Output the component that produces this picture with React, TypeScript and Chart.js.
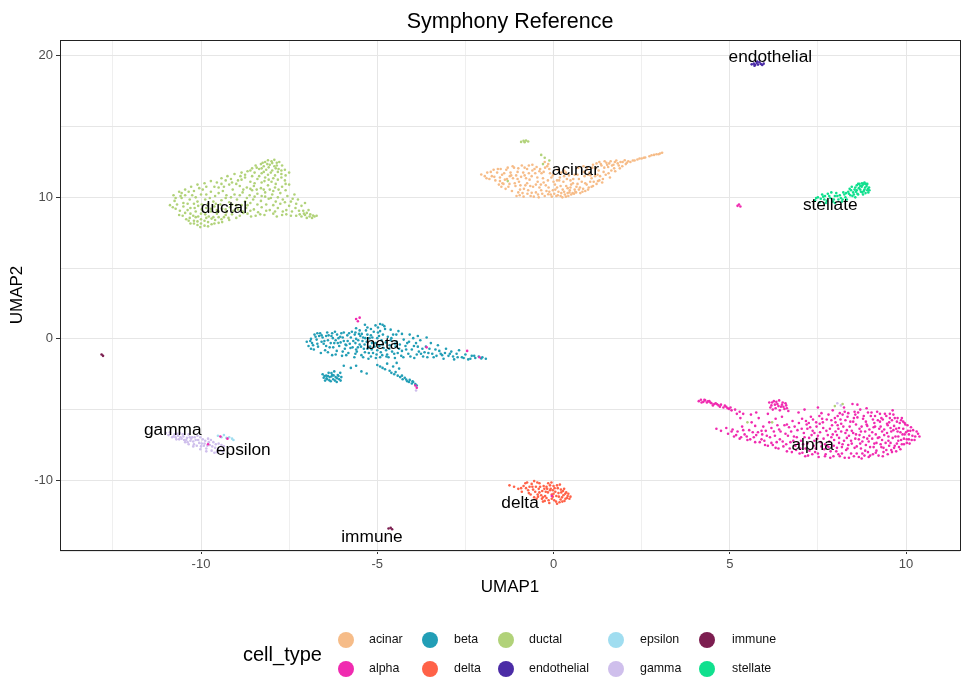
import React, { useEffect, useRef } from "react";
import { Chart, registerables } from "chart.js";

Chart.register(...registerables);

type P = [number, number];

const cellTypes = ["acinar", "alpha", "beta", "delta", "ductal", "endothelial", "epsilon", "gamma", "immune", "stellate"];
const cellColors = ["#F6BC88", "#F02BB0", "#229EB6", "#FF6248", "#B1D279", "#4B2CA6", "#A0DDF0", "#CFBFEC", "#7C1E50", "#10E08E"];
const xMajorTicks = [-12.5, -10, -7.5, -5, -2.5, 0, 2.5, 5, 7.5, 10];
const yMajorTicks = [-15, -10, -5, 0, 5, 10, 15, 20];
const labelNames = ["acinar", "alpha", "beta", "delta", "ductal", "endothelial", "epsilon", "gamma", "immune", "stellate"];
const labelX = [0.62, 7.35, -4.85, -0.95, -9.35, 6.15, -8.8, -10.8, -5.15, 7.85];
const labelY = [11.9, -7.55, -0.35, -11.65, 9.2, 19.9, -7.85, -6.45, -14.05, 9.45];

const acinar: P[] = [
[3.08,13.15],[2.98,13.05],[2.85,13],[2.72,12.9],[2.6,12.82],[2.5,12.75],[2.38,12.68],[2.25,12.6],[2.12,12.55],[2.02,12.62],[1.9,12.5],[1.95,12.2],[1.78,12.6],[1.7,12.3],[1.62,12.55],[1.55,12.15],[1.5,12.45],[1.42,11.8],[1.36,12.25],[1.3,12.5],[1.25,11.6],[1.2,12.05],[1.12,12.3],[1.08,11.35],[1.02,11.75],[0.95,12.1],[0.9,11],[0.88,11.5],[1.3,11.2],[1.6,11.4],[1.75,11.85],[0.75,10.7],[0.72,11.3],[0.7,12.1],[0.62,10.4],[0.55,11],[0.5,10.2],[0.48,10.7],[0.42,10.1],[0.38,11.3],[0.3,10.4],[0.25,10],[0.2,10.8],[0.18,11.4],[0.12,10.15],[0.05,10.55],[0,11.1],[-0.05,10.05],[-0.1,11.7],[-0.12,10.4],[-0.18,12.2],[-0.22,10.85],[-0.25,10.1],[-0.3,11.35],[-0.35,10.5],[-0.38,12],[-0.42,10],[-0.45,11.1],[-0.5,10.35],[-0.52,11.7],[-0.58,10.75],[-0.6,12.3],[-0.65,10.1],[-0.68,11.25],[-0.72,10.5],[-0.75,12],[-0.8,10.85],[-0.82,11.55],[-0.85,10.05],[-0.9,12.25],[-0.95,10.55],[-0.98,11.1],[-1.02,11.8],[-1.05,10.1],[-1.08,10.8],[-1.12,12.1],[-1.15,11.35],[-1.18,10.45],[-1.22,11.75],[-1.25,10.95],[-1.3,12.1],[-1.32,11.3],[-1.36,10.6],[-1.4,11.7],[-1.45,11],[-1.5,12],[-1.52,11.4],[-1.55,10.9],[-1.6,11.75],[-1.65,11.2],[-1.7,11.95],[-1.75,11.5],[-1.82,11.3],[-1.88,11.75],[-1.95,11.5],[-2.05,11.62],[0.02,10.25],[0.1,10.7],[0.22,10.3],[0.35,10.05],[0.45,10.35],[0.58,10.25],[0.65,10.75],[-0.02,11.55],[0.12,11.95],[-0.28,11.8],[-0.48,12.15],[-0.7,11.7],[-0.92,11.45],[0.3,11.9],[0.6,11.6],[0.82,10.4],[0.98,10.55],[1.12,10.8],[1.22,10.95],[1.38,11.05],[-0.15,10.22],[-0.4,10.7],[-0.62,10.32],[-0.88,10.3],[-1,10.35],[1.45,12.55],[1.85,12.25],[2.05,12.35],[-0.25,12.5],[-0.15,12.35],[0.85,12.2],[1.05,11.55],[-1.2,11.55],[-1.48,10.75],[-0.75,11],[0.4,10.65],[0.28,11.1],
[-1.9,11.35],[-1.78,11.8],[-1.68,11.45],[-1.58,12],[-1.46,11.6],[-1.42,10.95],[-1.34,11.95],[-1.28,10.75],[-1.24,11.5],[-1.16,12.2],[-1.1,11],[-1.06,11.55],[-1,12.05],[-0.96,10.15],[-0.94,10.85],[-0.86,11.75],[-0.84,10.6],[-0.78,11.35],[-0.74,10.25],[-0.7,12.25],[-0.66,10.8],[-0.62,11.5],[-0.56,10.05],[-0.54,12],[-0.5,10.9],[-0.46,11.4],[-0.44,10.2],[-0.4,11.85],[-0.36,10.9],[-0.32,10.25],[-0.28,11.05],[-0.24,12.1],[-0.2,10.45],[-0.16,11.2],[-0.14,10.7],[-0.08,10.2],[-0.06,11.4],[-0.02,10.5],[0.04,10.9],[0.08,10.1],[0.14,10.4],[0.16,11.2],[0.2,10.1],[0.26,10.55],[0.3,11.5],[0.32,10.2],[0.36,10.8],[0.4,10.3],[0.44,11.55],[0.46,10.5],[0.5,10.9],[0.54,10.3],[0.56,11.3],[0.6,10.55],[0.64,10.35],[0.68,10.95],[0.72,10.55],[0.76,10.3],[0.8,11.1],[0.84,10.6],[0.86,11.8],[0.9,10.45],[0.94,10.9],[0.98,11.6],[1,10.7],[1.04,11.1],[1.08,10.75],[1.1,12.1],[1.14,11.1],[1.18,11.5],[1.22,12.4],[1.26,11.15],[1.28,11.9],[1.32,11.5],[1.34,12.35],[1.4,11.3],[1.44,12.1],[1.48,11.6],[1.52,12.3],[1.56,11.7],[1.58,12.4],[1.64,11.9],[1.66,12.25],[1.72,12.05],[1.74,12.5],[1.82,12.4],[1.88,12.05],[1.96,12.5],[2.08,12.45],[2.18,12.5],[2.3,12.6],[2.44,12.75],[2.56,12.8],[2.78,12.98],[2.92,13.05],[3.02,13.1],[0.1,11.2],[0.22,11.75],[0.35,11.75],[0.48,11.2],[0.68,11.6],[-0.12,12],[-0.34,11.7],[-0.6,11.9],[-0.82,12.1],[-1.02,11.3],[-1.38,11.25],[-1.52,11.15]
];

const alpha: P[] = [
[4.12,-4.4],[4.18,-4.3],[4.25,-4.45],[4.3,-4.35],[4.35,-4.5],[4.42,-4.4],[4.48,-4.55],[4.52,-4.7],[4.6,-4.55],[4.68,-4.7],[4.75,-4.65],[4.82,-4.85],[4.9,-4.8],[4.98,-4.95],[5.05,-5.05],[5.15,-5],[5.28,-5.15],[5.38,-5.3],
[4.2,-4.5],[4.28,-4.3],[4.38,-4.42],[4.45,-4.5],[4.56,-4.6],[4.64,-4.62],[4.72,-4.8],[4.86,-4.72],[4.94,-4.9],[5.02,-4.85],
[6.12,-4.5],[6.18,-4.7],[6.25,-4.4],[6.3,-4.9],[6.35,-4.6],[6.4,-4.35],[6.45,-4.8],[6.5,-4.5],[6.55,-4.95],[6.6,-4.7],[6.66,-5.1],[6.22,-5],[6.42,-5.05],
[6.15,-4.85],[6.2,-4.5],[6.28,-4.65],[6.32,-4.45],[6.38,-4.75],[6.48,-4.65],[6.52,-4.8],[6.58,-4.55],[6.62,-4.9],
[4.62,-6.35],[4.75,-6.5],[4.9,-6.3],[4.95,-6.7],[5.08,-6.4],[5.12,-6.9],[5.22,-6.55],[5.28,-7.05],[5.35,-6.2],[5.42,-6.75],[5.5,-7.15],[5.55,-6.45],[5.62,-5.9],[5.68,-6.95],[5.72,-7.3],[5.8,-6.6],[5.82,-5.6],[5.9,-7.1],[5.95,-6.2],[6,-7.5],[6.05,-6.85],[6.12,-5.9],[6.18,-7.35],[6.25,-6.55],[6.3,-7.7],[6.35,-6.1],[6.42,-7.1],[6.48,-5.5],[6.52,-7.6],[6.58,-6.7],[6.62,-7.95],[6.68,-6.25],[6.72,-7.3],[6.78,-5.8],[6.82,-6.9],[6.88,-7.85],[6.92,-6.45],[6.98,-8.1],[7.02,-7.2],[7.05,-5.65],[7.1,-6.65],[7.15,-7.75],[7.18,-6.05],[7.22,-8.25],[7.25,-7],[7.3,-5.5],[7.35,-6.5],[7.38,-7.55],[7.42,-8],[7.45,-5.9],[7.5,-6.85],[7.52,-8.35],[7.58,-7.3],[7.6,-5.25],[7.65,-6.3],[7.68,-7.8],[7.72,-8.15],[7.75,-5.7],[7.78,-6.8],[7.82,-7.25],[7.85,-8.4],[7.9,-6.1],[7.92,-5.05],[7.95,-7.55],[8,-6.55],[8.02,-7.95],[8.06,-5.45],[8.1,-7],[8.12,-8.3],[8.16,-6],[8.2,-7.45],[8.24,-4.85],[8.28,-6.65],[8.3,-7.85],[8.34,-5.5],[8.38,-8.4],[8.4,-6.2],[8.44,-7.2],[8.48,-4.6],[8.5,-5.85],[8.54,-7.7],[8.58,-6.75],[8.6,-8.1],[8.64,-5.2],[8.68,-6.35],[8.7,-7.4],[8.74,-8.45],[8.78,-5.65],[8.8,-6.95],[8.84,-7.9],[8.88,-4.9],[8.9,-6.15],[8.94,-7.25],[8.98,-8.25],[9,-5.45],[9.04,-6.6],[9.08,-7.65],[9.1,-5.95],[9.14,-8.05],[9.18,-5.15],[9.2,-7],[9.24,-6.35],[9.28,-7.45],[9.3,-5.6],[9.34,-8.3],[9.38,-6.8],[9.4,-5.3],[9.44,-7.85],[9.48,-6.1],[9.5,-7.2],[9.54,-5.6],[9.58,-6.55],[9.6,-8],[9.64,-5.35],[9.68,-7.55],[9.7,-6.9],[9.74,-5.85],[9.78,-7.2],[9.8,-6.3],[9.84,-7.8],[9.88,-5.6],[9.9,-6.75],[9.94,-7.45],[9.98,-6.05],[10.02,-7.1],[10.05,-6.5],[10.1,-7.4],[10.14,-6.25],[10.18,-6.85],[10.24,-7.15],[10.3,-6.55],[10.38,-6.9],
[7.08,-7.45],[7.28,-6.25],[7.48,-7.05],[7.62,-5.65],[7.7,-7.45],[7.88,-6.95],[7.98,-5.6],[8.08,-6.35],[8.18,-8.1],[8.26,-5.15],[8.36,-7.5],[8.46,-6.5],[8.56,-5.35],[8.66,-7.1],[8.76,-8.1],[8.86,-5.85],[8.96,-6.85],[9.06,-5.7],[9.16,-7.35],[9.26,-5.85],[9.36,-7.7],[9.46,-6.65],[9.56,-7.35],[9.66,-6.15],[9.76,-6.55],[9.86,-7.15],[9.96,-6.75],[10.08,-6.75],
[7.2,-6.35],[7.4,-7.2],[7.55,-6],[7.8,-7.65],[8.04,-6.8],[8.14,-5.7],[8.32,-7],[8.52,-5.6],[8.72,-6.55],[8.92,-8],[9.12,-6.2],[9.32,-6.55],[9.52,-5.9],[9.72,-7.95],[9.92,-5.85],[5.3,-5.6],[5.75,-5.2],[6.08,-5.3],[6.95,-5.2],[7.12,-5],[7.5,-4.85],[8.62,-4.65],[8.2,-5.35],[9.62,-5.05],[5.2,-5.3],
[5.05,-6.55],[5.18,-6.8],[5.32,-6.95],[5.38,-6.45],[5.48,-6.9],[5.58,-7.1],[5.65,-6.6],[5.75,-6.8],[5.85,-7.3],[5.92,-6.75],[5.98,-7.2],[6.02,-6.5],[6.08,-7.55],[6.14,-6.95],[6.22,-7.5],[6.28,-6.85],[6.33,-7.3],[6.38,-7.75],[6.44,-6.55],[6.5,-7.25],[6.55,-6.1],[6.6,-7.45],[6.65,-6.85],[6.7,-7.75],[6.74,-6.55],[6.76,-8],[6.8,-7.2],[6.84,-6.2],[6.86,-7.55],[6.9,-6.95],[6.94,-7.4],[6.96,-5.95],[7,-7.75],[7.04,-6.35],[7.06,-8.05],[7.12,-6.95],[7.14,-8.3],[7.16,-5.8],[7.2,-7.4],[7.24,-5.95],[7.26,-7.9],[7.32,-6.8],[7.34,-8.15],[7.36,-5.7],[7.4,-6.65],[7.44,-7.75],[7.46,-6.2],[7.5,-8.1],[7.54,-5.45],[7.56,-6.6],[7.6,-7.6],[7.64,-5.9],[7.66,-7.05],[7.7,-8.3],[7.74,-6.5],[7.76,-7.55],[7.8,-5.35],[7.84,-6.35],[7.86,-7.95],[7.88,-5.75],[7.92,-6.75],[7.94,-8.3],[7.96,-7.15],[8,-5.9],[8.04,-7.7],[8.06,-6.1],[8.08,-8.15],[8.1,-7.35],[8.12,-5.25],[8.16,-6.55],[8.18,-7.65],[8.22,-6.2],[8.24,-7.2],[8.26,-8.4],[8.28,-5.75],[8.32,-6.45],[8.34,-7.75],[8.36,-5.25],[8.38,-6.85],[8.42,-5.85],[8.44,-8.1],[8.46,-7.4],[8.5,-6.65],[8.52,-8.3],[8.54,-5.15],[8.56,-7.05],[8.58,-6.05],[8.6,-7.6],[8.62,-5.55],[8.66,-8.35],[8.68,-6.8],[8.7,-5],[8.72,-7.75],[8.74,-6.2],[8.76,-7.25],[8.8,-5.45],[8.82,-8.25],[8.84,-6.55],[8.86,-7.5],[8.88,-6.05],[8.9,-7.05],[8.92,-5.2],[8.94,-8.35],[8.96,-6.4],[8.98,-7.65],[9.02,-5.2],[9.04,-7.05],[9.06,-8.15],[9.08,-6.25],[9.1,-7.4],[9.12,-5.45],[9.14,-6.75],[9.16,-7.9],[9.2,-5.75],[9.22,-8.25],[9.24,-6.95],[9.26,-5.3],[9.28,-6.2],[9.3,-7.65],[9.32,-7.15],[9.34,-5.7],[9.36,-8],[9.38,-6.4],[9.42,-7.35],[9.44,-5.45],[9.46,-6],[9.48,-8.15],[9.5,-6.9],[9.52,-7.55],[9.54,-5.3],[9.56,-6.3],[9.58,-7.85],[9.6,-5.75],[9.62,-7],[9.64,-6.45],[9.66,-7.7],[9.68,-5.6],[9.72,-6.35],[9.74,-7.4],[9.76,-5.6],[9.78,-6.9],[9.8,-7.65],[9.82,-5.95],[9.84,-6.6],[9.86,-5.75],[9.88,-7.45],[9.92,-6.35],[9.94,-7.05],[9.96,-5.95],[10,-6.6],[10.02,-7.35],[10.04,-6.1],[10.08,-7.1],[10.12,-6.5],[10.16,-7.15],[10.2,-6.45],[10.26,-6.9],[10.34,-6.7],[5.72,-6.15],[5.9,-6.5],[6.18,-6.3],[6.4,-6.4],[6.62,-6.05],[6.3,-5.65],[5.6,-5.35],
[5.22,9.4],[5.3,9.35],[5.26,9.5],[-5.6,1.4],[-5.5,1.5],[-5.55,1.25],[-3.92,-3.3],[-3.88,-3.45],[-2.1,-1.3],[-2.45,-0.85],[-3.6,-0.6],[-9.8,-7.45],[-9.45,-6.9],[-9.25,-7.05],[-0.05,-11.1]
];

const beta: P[] = [
[-7,-0.2],[-6.95,-0.5],[-6.88,0],[-6.85,-0.3],[-6.8,-0.75],[-6.78,0.3],[-6.72,-0.05],[-6.68,-0.55],[-6.62,0.4],[-6.6,-1],[-6.55,0.1],[-6.52,-0.35],[-6.48,-0.8],[-6.42,0.45],[-6.4,-0.1],[-6.35,-0.6],[-6.3,0.2],[-6.28,-1.15],[-6.22,-0.3],[-6.2,0.5],[-6.15,-0.85],[-6.1,0.05],[-6.08,-0.5],[-6.02,0.4],[-6,-1.2],[-5.95,-0.15],[-5.92,-0.7],[-5.85,0.25],[-5.82,-1],[-5.78,-0.35],[-5.72,0.5],[-5.7,-0.6],[-5.65,-1.3],[-5.6,0],[-5.58,-0.9],[-5.52,0.35],[-5.5,-0.4],[-5.45,-1.15],[-5.4,0.1],[-5.38,-0.7],[-5.32,0.6],[-5.3,-0.2],[-5.25,-1.4],[-5.2,-0.55],[-5.18,0.25],[-5.12,-1],[-5.1,0.5],[-5.05,-0.3],[-5,-0.8],[-4.95,0.2],[-4.92,-1.3],[-4.88,-0.1],[-4.82,-0.65],[-4.78,0.7],[-4.72,-1.1],[-4.7,0.15],[-4.65,-0.45],[-4.58,-0.9],[-4.55,0.3],[-4.5,-1.35],[-4.45,-0.2],[-4.4,0.55],[-4.38,-0.7],[-4.32,-1.2],[-4.25,-0.05],[-4.2,-0.5],[-4.12,-1.05],[-4.08,0.3],[-4.02,-0.75],[-3.95,-1.35],[-3.9,-0.3],[-3.82,-0.9],[-3.78,-0.1],[-3.7,-1.25],[-3.62,-0.55],[-3.55,-1],[-3.48,-0.3],[-3.4,-1.3],[-3.35,-0.75],[-3.28,-0.45],[-3.2,-1.05],[-3.12,-1.4],[-3.05,-0.7],[-2.98,-1.2],[-2.9,-0.9],[-2.82,-1.45],[-2.75,-1.05],[-2.68,-0.8],[-2.6,-1.3],[-2.5,-1.1],[-2.42,-1.45],[-2.32,-1.2],[-2.22,-1.35],[-2.12,-1.25],[-2.02,-1.3],[-1.92,-1.4],
[-6.58,-0.2],[-6.38,0.25],[-6.25,-0.6],[-6.12,-0.3],[-6.05,0.15],[-5.88,-0.45],[-5.75,0.1],[-5.62,-0.3],[-5.55,-0.6],[-5.42,-0.15],[-5.35,-0.95],[-5.22,0.05],[-5.15,-0.3],[-5.02,-1.1],[-4.98,0.45],[-4.85,-0.4],[-4.75,-0.8],[-4.62,-0.1],[-4.48,-0.55],[-6.65,0.2],[-6.45,-0.5],[-5.98,-0.9],[-5.8,0.4],[-5.48,0.2],[-5.28,-0.7],[-4.9,-0.95],[-4.68,-1.3],[-4.42,-1],[-4.15,-0.3],[-3.98,0.05],[-3.72,-0.7],
[-6.9,-0.15],[-6.82,-0.45],[-6.75,0.15],[-6.7,-0.35],[-6.58,0.25],[-6.5,-0.15],[-6.45,0.2],[-6.32,-0.3],[-6.26,0.05],[-6.18,-0.1],[-6.14,0.3],[-6.04,-0.25],[-5.98,0.1],[-5.9,-0.4],[-5.84,-0.15],[-5.76,-0.65],[-5.68,-0.15],[-5.64,0.3],[-5.6,-0.75],[-5.54,-0.1],[-5.46,-0.55],[-5.44,0.35],[-5.36,-0.4],[-5.34,0.05],[-5.28,0.3],[-5.24,-1],[-5.16,-0.75],[-5.14,0.1],[-5.08,-0.55],[-5.04,-1.35],[-5,0.05],[-4.94,-0.5],[-4.86,-1.15],[-4.84,0.3],[-4.76,-0.25],[-4.74,-1.25],[-4.66,-0.7],[-4.6,0.05],[-4.52,-1.05],[-4.5,-0.35],[-4.46,0.3],[-4.36,-0.4],[-4.3,-0.85],[-4.26,-1.3],[-4.18,-0.75],[-4.1,-0.2],[-4.06,-1.25],[-3.96,-0.5],[-3.88,-1.1],[-3.85,-0.55],[-3.76,-1.05],[-3.66,-0.95],[-3.58,-1.3],[-3.52,-0.7],[-3.44,-1.05],[-3.32,-1.2],[-3.24,-0.85],[-3.16,-1.15],[-3.08,-1],[-2.94,-1.05],[-2.85,-1.25],[-2.72,-1.3],[-2.55,-1.35],[-2.36,-1.4],[-2.25,-1.2],[-2.05,-1.38],[-6.4,-0.95],[-6.18,-1.1],[-5.88,-1.15],[-5.62,-1.05],[-5.4,-1.3],[-5.18,-1.25],[-6.88,-0.7],[-6.7,0.4],[-6.28,0.4],[-5.95,0.45],[-5.62,0.45],[-4.92,0.55],[-4.62,0.65],[-4.3,0.35],[-3.85,0.2],[-3.6,0.1],
[-5.6,0.75],[-5.35,1],[-5.28,0.8],[-5.18,0.7],[-5.05,0.95],[-4.98,0.8],[-4.92,1.05],[-4.85,1],[-4.8,0.9],[-5.5,0.6],
[-6.55,-2.5],[-6.52,-2.75],[-6.48,-2.95],[-6.45,-2.6],[-6.42,-2.85],[-6.38,-2.4],[-6.35,-2.7],[-6.32,-3],[-6.28,-2.55],[-6.25,-2.85],[-6.22,-2.3],[-6.18,-2.7],[-6.15,-3.05],[-6.12,-2.55],[-6.08,-2.85],[-6.05,-2.4],[-6.02,-2.7],[-5.95,-1.9],[-5.75,-2.05],[-5.6,-1.9],[-5.45,-2.3],[-5.3,-2.45],
[-6.5,-2.62],[-6.44,-2.78],[-6.36,-2.92],[-6.3,-2.66],[-6.24,-2.58],[-6.2,-2.95],[-6.14,-2.78],[-6.1,-2.62],[-6.04,-2.95],[-6.3,-2.42],[-6.4,-2.62],
[-5,-1.85],[-4.92,-1.95],[-4.85,-2.05],[-4.78,-2.15],[-4.72,-1.75],[-4.65,-2.25],[-4.6,-2.4],[-4.52,-2.5],[-4.45,-1.7],[-4.42,-2.6],[-4.35,-2.7],[-4.28,-2.85],[-4.22,-2.75],[-4.15,-3],[-4.08,-2.9],[-4.02,-3.15],[-3.98,-3.05],[-3.92,-3.2],[-3.88,-3.3],[-4.55,-1.95],[-4.38,-2.1],[-4.48,-2.35],[-4.3,-2.6],[-4.18,-2.88],[-4.1,-3.05],[-4,-3]
];

const delta: P[] = [
[-1.25,-10.35],[-1.12,-10.45],[-1,-10.6],[-0.9,-10.8],[-0.85,-10.4],[-0.75,-10.15],[-0.72,-10.7],[-0.65,-11],[-0.6,-10.45],[-0.55,-10.05],[-0.52,-10.8],[-0.48,-11.3],[-0.42,-10.6],[-0.4,-10.2],[-0.35,-11.05],[-0.3,-11.5],[-0.28,-10.4],[-0.22,-10.8],[-0.2,-11.25],[-0.15,-10.2],[-0.12,-11.6],[-0.08,-10.6],[-0.05,-11],[0,-10.4],[0.02,-11.4],[0.05,-10.8],[0.1,-11.65],[0.12,-10.55],[0.15,-11.15],[0.18,-10.3],[0.22,-10.85],[0.25,-11.5],[0.28,-11.05],[0.3,-10.6],[0.34,-11.3],[0.36,-10.85],[0.4,-11.1],[0.45,-11.3],[-0.18,-10.6],[-0.32,-10.75],[-0.45,-11],[-0.02,-10.7],[-0.55,-11.2],[-0.68,-10.45],[-0.05,-11.3],[0.08,-11.1],[0.2,-11.35],[-0.25,-11.45],[-0.8,-10.2],[-0.1,-10.35],
[-0.7,-10.9],[-0.62,-10.25],[-0.58,-10.65],[-0.5,-10.45],[-0.46,-10.15],[-0.44,-11.15],[-0.38,-10.45],[-0.33,-11.3],[-0.26,-10.6],[-0.24,-11.1],[-0.16,-10.85],[-0.14,-11.4],[-0.1,-10.7],[-0.06,-10.15],[-0.02,-11.15],[0.03,-10.55],[0.07,-11.5],[0.1,-10.35],[0.14,-10.9],[0.17,-11.55],[0.21,-10.65],[0.24,-11.2],[0.27,-10.75],[0.31,-11.45],[0.33,-10.95],[0.38,-11.25],[0.42,-10.95],[0.48,-11.15],[-0.92,-10.55],[-0.78,-10.55],[-0.4,-10.85],[0,-10.95],[-0.2,-10.45],[-0.3,-11.2]
];

const ductal: P[] = [
[-8.18,12.5],[-8.1,12.62],[-8,12.55],[-7.92,12.65],[-7.85,12.45],[-7.78,12.5],[-8.3,12.35],[-8.22,12.2],[-8.05,12.3],[-7.92,12.2],[-7.7,12.25],[-8.45,12.25],[-8.55,12.05],[-8.35,12],[-8.15,11.95],[-7.98,11.9],[-7.8,12],[-7.62,11.95],[-7.5,11.75],[-7.72,11.65],[-7.9,11.55],[-8.1,11.6],[-8.28,11.7],[-8.48,11.75],[-8.68,11.85],[-8.85,11.75],[-9.05,11.65],[-9.25,11.5],[-9.42,11.35],[-9.3,11.2],[-9.15,11.3],[-8.95,11.2],[-8.75,11.4],[-8.6,11.1],[-8.4,11.3],[-8.2,11.15],[-8,11.1],[-7.82,11.25],[-7.62,11.2],[-7.5,10.9],[-7.7,10.75],[-7.9,10.7],[-8.1,10.85],[-8.3,10.65],[-8.5,10.8],[-8.7,10.7],[-8.9,10.8],[-9.1,10.55],[-9.35,10.75],[-9.55,11.05],[-9.72,11.15],[-9.9,11],[-10.1,10.9],[-10.28,10.75],[-10.45,10.55],[-10.62,10.4],[-10.78,10.15],[-10.2,10.45],[-9.95,10.55],[-9.72,10.4],[-9.5,10.3],[-9.28,10.15],[-9.05,10.2],[-8.82,10.35],[-8.62,10.15],[-8.4,10.25],[-8.18,10.35],[-7.98,10.2],[-7.75,10.3],[-7.55,10.1],[-7.35,10.2],[-7.25,9.85],[-7.05,9.6],[-7.45,9.7],[-7.68,9.85],[-7.88,9.7],[-8.08,9.9],[-8.3,9.75],[-8.52,9.85],[-8.75,9.7],[-8.98,9.85],[-9.2,9.65],[-9.42,9.8],[-9.65,9.7],[-9.88,9.85],[-10.1,9.7],[-10.32,9.85],[-10.55,9.95],[-10.75,9.75],[-10.88,9.45],[-10.72,9.2],[-10.5,9.35],[-10.3,9.25],[-10.08,9.4],[-9.85,9.25],[-9.62,9.35],[-9.4,9.2],[-9.18,9.3],[-8.95,9.15],[-8.72,9.25],[-8.5,9.15],[-8.28,9.3],[-8.05,9.1],[-7.82,9.25],[-7.58,9.1],[-7.32,9.25],[-7.1,9.05],[-6.95,9.1],[-7.2,8.8],[-7.05,8.75],[-6.9,8.8],[-6.78,8.65],[-6.85,8.55],[-7,8.55],[-6.72,8.7],[-7.15,8.65],[-7.45,8.7],[-7.7,8.75],[-7.95,8.85],[-8.2,8.75],[-8.45,8.7],[-8.68,8.85],[-8.9,8.7],[-9.12,8.8],[-9.35,8.6],[-9.55,8.85],[-9.78,8.65],[-10,8.85],[-10.22,8.7],[-10.45,8.9],[-10.62,8.75],[-10.42,8.45],[-10.2,8.35],[-10,8.45],[-9.8,8.25],[-9.6,8.4],[-9.4,8.25],[-9.2,8.4],[-10.1,8.05],[-9.9,8],[-9.7,8.1],[-10.3,8.15],[-10.02,7.9],[-9.5,8.6],[-9.28,8.95],[-9.72,9],[-10.15,9],[-10.38,9.55],[-9.98,9.5],[-9.55,9.1],[-9.3,9.95],[-9,9.45],[-8.6,9.6],[-8.15,9.5],[-7.75,9.55],[-7.6,10.5],[-8.05,10.55],[-8.55,10.5],[-9,10.95],[-9.5,10.7],[-9.75,9.95],[-8.88,11.5],[-8.35,11.5],[-8.18,10.05],[-8.85,9.45],[-9.45,9.5],[-10.25,10.15],[-10,10.2],[-10.58,10.1],[-10.15,8.6],[-9.85,8.55],
[-8.25,12.45],[-8.12,12.35],[-7.98,12.42],[-7.85,12.25],[-8.42,12.1],[-8.28,12.05],[-8.08,12.12],[-7.88,12.05],[-7.72,11.9],[-8.6,11.9],[-8.22,11.8],[-8.02,11.75],[-7.82,11.8],[-7.6,11.55],[-8.75,11.6],[-8.55,11.5],[-8.18,11.4],[-7.95,11.35],[-7.72,11.4],[-8.85,11.25],[-8.48,11],[-8.28,11.05],[-8.08,11.25],[-7.88,10.95],[-7.6,10.95],[-9.12,11.05],[-8.8,10.55],[-8.6,10.6],[-8.42,10.55],[-8.22,10.55],[-7.95,10.45],[-7.8,10.55],[-9.2,10.9],[-9.42,10.95],[-9.62,10.75],[-9.85,10.75],[-10.05,10.65],[-10.35,10.4],[-10.55,10.3],[-10.72,9.95],[-10.45,10.15],[-10.15,10],[-9.85,10.2],[-9.6,10.1],[-9.38,10.45],[-9.15,10],[-8.9,10.15],[-8.7,9.95],[-8.48,10.05],[-8.28,10.1],[-8.02,9.95],[-7.82,10],[-7.62,9.65],[-7.4,9.9],[-7.15,9.4],[-7.3,9.55],[-7.5,9.4],[-7.95,9.45],[-8.4,9.5],[-8.68,9.45],[-9.12,9.5],[-9.58,9.55],[-9.8,9.55],[-10.2,9.55],[-10.5,9.6],[-10.68,9.5],[-10.8,9.3],[-10.6,9.05],[-10.38,9.1],[-10.18,9.25],[-9.98,9.15],[-9.72,9.2],[-9.5,9],[-9.3,9.15],[-9.08,9.05],[-8.82,9],[-8.6,9.05],[-8.38,8.95],[-8.15,9.05],[-7.9,9],[-7.68,9],[-7.42,9],[-7.22,9.05],[-7,8.9],[-6.82,8.72],[-6.92,8.65],[-7.08,8.85],[-7.3,8.7],[-7.58,8.8],[-7.85,8.65],[-8.32,8.8],[-8.58,8.65],[-8.8,8.9],[-9,8.55],[-9.22,8.55],[-9.42,8.45],[-9.65,8.6],[-9.88,8.8],[-10.08,8.65],[-10.32,8.55],[-10.52,8.7],[-10.3,8.85],[-10.1,8.3],[-9.9,8.35],[-9.7,8.5],[-9.5,8.2],[-9.3,8.75],[-10.2,8.15],[-10,8.15],[-9.8,7.95],[-9.62,8.15],[-10.35,8.35],
[-0.85,14],[-0.78,14.02],[-0.72,13.95],[-0.92,13.92],[-0.82,13.9],[-0.35,13],[-0.25,12.8],[-0.12,12.6],[-0.3,12.35],[-1.3,11.15],[7.98,-4.75],[8.2,-4.6],[6.2,-5.9],[5.5,-5.9]
];

const endothelial: P[] = [
[5.62,19.4],[5.68,19.45],[5.72,19.35],[5.76,19.5],[5.8,19.38],[5.84,19.55],[5.88,19.42],[5.92,19.35],[5.96,19.45],[5.78,19.6],[5.7,19.3]
];

const epsilon: P[] = [
[-9.52,-6.85],[-9.42,-6.95],[-9.35,-6.8],[-9.28,-7],[-9.2,-6.95],[-9.12,-7.05],[-9.08,-7.15]
];

const gamma: P[] = [
[-11,-6.65],[-10.92,-6.8],[-10.88,-6.6],[-10.82,-6.95],[-10.75,-6.75],[-10.7,-7.1],[-10.65,-6.85],[-10.6,-6.65],[-10.55,-7.05],[-10.5,-6.9],[-10.45,-7.3],[-10.4,-7],[-10.35,-6.75],[-10.3,-7.2],[-10.25,-6.95],[-10.2,-7.45],[-10.15,-7.15],[-10.1,-6.85],[-10.05,-7.35],[-10,-7.6],[-9.95,-7.1],[-9.9,-7.4],[-9.85,-7.75],[-9.8,-7.05],[-9.75,-7.5],[-9.7,-7.9],[-9.65,-7.3],[-9.6,-7.7],[-9.55,-8],[-9.5,-7.4],[-9.45,-7.85],[-9.35,-7.6],[-10.68,-6.7],[-10.48,-7.15],[-10.28,-7.05],[-10.12,-7.55],[-9.92,-7.55],[-10.58,-6.95],[-10.38,-7.3],[-10.78,-6.9],[-9.78,-7.3],[-9.62,-8.05],
[-10.72,-6.95],[-10.62,-7.1],[-10.52,-6.75],[-10.42,-7.15],[-10.32,-6.95],[-10.22,-7.25],[-10.18,-6.95],[-10.08,-7.15],[-10.02,-6.95],[-9.98,-7.4],[-9.88,-7.2],[-9.82,-7.55],[-9.72,-7.15],[-9.68,-7.6],[-9.58,-7.45],[-9.52,-7.85],[-9.42,-7.5],[-9.38,-7.95],[-10.35,-7.45],[-10.22,-7.6],[-10.02,-7.8],[-9.85,-7.95],
[-3.9,-3.65],[8.05,-4.55],[8.15,-4.7]
];

const immune: P[] = [
[-4.68,-13.4],[-4.62,-13.35],[-4.58,-13.45],[-12.82,-1.1],[-12.78,-1.2]
];

const stellate: P[] = [
[7.42,9.8],[7.5,10],[7.55,9.65],[7.62,10.2],[7.68,9.85],[7.72,9.6],[7.78,10.25],[7.85,9.95],[7.88,10.35],[7.92,9.7],[7.98,10.1],[8.02,10.3],[8.08,9.85],[8.12,10.15],[8.18,9.7],[8.22,10.35],[8.28,10],[8.32,9.85],[8.36,10.4],[8.4,10.6],[8.42,10.15],[8.46,10.75],[8.5,10.35],[8.54,10.55],[8.56,10],[8.6,10.85],[8.62,10.25],[8.66,10.65],[8.68,10.95],[8.72,10.4],[8.74,10.75],[8.78,10.2],[8.8,10.95],[8.82,10.55],[8.85,10.3],[8.88,10.8],[8.9,10.5],[8.93,10.35],[8.95,10.7],[8.6,10.5],[8.48,10.1],[7.7,10.1],[7.98,9.6],[8.15,9.95],[8.3,10.3],[8.75,11],[8.82,11.05],[8.9,10.95],
[7.45,9.95],[7.58,9.9],[7.65,10.05],[7.75,9.75],[7.82,10.1],[7.95,9.85],[8.05,10.1],[8.2,9.85],[8.25,10.2],[8.38,10.25],[8.44,10.5],[8.52,10.2],[8.56,10.7],[8.58,10.4],[8.64,10.2],[8.64,10.95],[8.7,10.55],[8.76,10.35],[8.76,10.85],[8.84,10.7],[8.86,10.95],[8.92,10.6],[8.96,10.5],[8.7,10.8],[8.8,10.45]
];

const seriesPoints: P[][] = [acinar, alpha, beta, delta, ductal, endothelial, epsilon, gamma, immune, stellate];

const FONT = '"Liberation Sans", Arial, sans-serif';

const panelAndLabels = {
  id: "panelAndLabels",
  afterDatasetsDraw(chart: any) {
    const { ctx, chartArea: a, scales } = chart;
    ctx.save();
    ctx.fillStyle = "#000";
    ctx.font = `17.3px ${FONT}`;
    ctx.textAlign = "center";
    ctx.textBaseline = "middle";
    labelNames.forEach((name, i) => {
      ctx.fillText(name, scales.x.getPixelForValue(labelX[i]), scales.y.getPixelForValue(labelY[i]));
    });
    ctx.strokeStyle = "#222";
    ctx.lineWidth = 1;
    ctx.strokeRect(Math.round(a.left) + 0.5, Math.round(a.top) + 0.5, Math.round(a.width), Math.round(a.height));
    ctx.restore();
  },
  afterDraw(chart: any) {
    const { ctx } = chart;
    ctx.save();
    ctx.textBaseline = "middle";
    ctx.textAlign = "left";
    ctx.fillStyle = "#000";
    ctx.font = `20px ${FONT}`;
    ctx.fillText("cell_type", 243, 655);
    const dotX = [346, 430, 506, 616, 707];
    const textX = [369, 454, 529, 640, 732];
    const rowY = [640, 669];
    ctx.font = `12.4px ${FONT}`;
    cellTypes.forEach((name, i) => {
      const col = Math.floor(i / 2);
      const row = i % 2;
      ctx.beginPath();
      ctx.arc(dotX[col], rowY[row], 8, 0, Math.PI * 2);
      ctx.fillStyle = cellColors[i];
      ctx.fill();
      ctx.fillStyle = "#111";
      ctx.fillText(name, textX[col], rowY[row]);
    });
    ctx.restore();
  },
};

export default function App() {
  const ref = useRef<HTMLCanvasElement>(null);
  useEffect(() => {
    document.body.style.margin = "0";
    const isMajor = (v: number) => v % 5 === 0;
    const gridColor = (c: any) => (isMajor(c.tick?.value ?? 0) ? "#e6e6e6" : "#efefef");
    const tickColor = (c: any) => (isMajor(c.tick?.value ?? 0) ? "#333333" : "rgba(0,0,0,0)");
    const chart = new Chart(ref.current!, {
      type: "scatter",
      data: {
        datasets: cellTypes.map((name, i) => ({
          label: name,
          data: seriesPoints[i].map(([x, y]) => ({ x, y })),
          backgroundColor: cellColors[i],
          borderWidth: 0,
          pointRadius: 1.3,
          pointStyle: "circle",
        })),
      },
      options: {
        responsive: false,
        animation: false,
        layout: { padding: { right: 9 } },
        plugins: {
          legend: { display: false },
          tooltip: { enabled: false },
          title: {
            display: true,
            text: "Symphony Reference",
            color: "#000",
            fullSize: false,
            font: { family: FONT, size: 21.5, weight: "normal" },
            padding: { top: 9, bottom: 5.2 },
          } as any,
        },
        scales: {
          x: {
            type: "linear",
            min: -14,
            max: 11.53,
            afterBuildTicks: (s: any) => {
              s.ticks = xMajorTicks.map((value) => ({ value }));
            },
            afterFit: (s: any) => {
              s.height = 149;
            },
            ticks: {
              autoSkip: false,
              maxRotation: 0,
              padding: 3,
              color: "#4d4d4d",
              font: { family: FONT, size: 13 },
              callback: (v: any) => (isMajor(Number(v)) ? String(v) : ""),
            },
            grid: { color: gridColor, tickColor, tickLength: 4, lineWidth: 1 },
            border: { display: false },
            title: {
              display: true,
              text: "UMAP1",
              color: "#000",
              font: { family: FONT, size: 17 },
              padding: { top: 0, bottom: 101 },
            },
          },
          y: {
            type: "linear",
            min: -14.92,
            max: 21.12,
            afterBuildTicks: (s: any) => {
              s.ticks = yMajorTicks.map((value) => ({ value }));
            },
            afterFit: (s: any) => {
              s.width = 60;
            },
            ticks: {
              autoSkip: false,
              padding: 3,
              color: "#4d4d4d",
              font: { family: FONT, size: 13 },
              callback: (v: any) => (v % 10 === 0 ? String(v) : ""),
            },
            grid: {
              color: gridColor,
              tickColor: (c: any) => (c.tick?.value % 10 === 0 ? "#333333" : "rgba(0,0,0,0)"),
              tickLength: 4,
              lineWidth: 1,
            },
            border: { display: false },
            title: {
              display: true,
              text: "UMAP2",
              color: "#000",
              font: { family: FONT, size: 17 },
              padding: { top: 7, bottom: 0 },
            },
          },
        },
      },
      plugins: [panelAndLabels],
    } as any);
    return () => chart.destroy();
  }, []);
  return <canvas ref={ref} width={969} height={699} style={{ display: "block" }} />;
}
